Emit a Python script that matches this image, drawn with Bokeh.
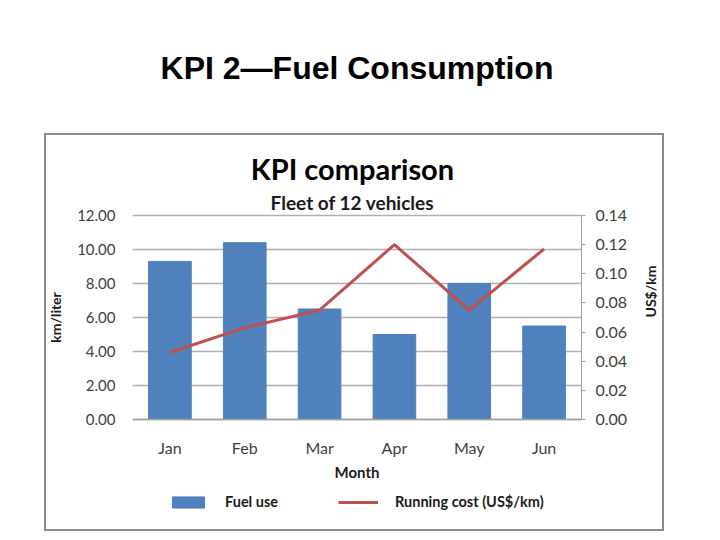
import math
from bokeh.plotting import figure
from bokeh.models import (FactorRange, Range1d, LinearAxis, Title, Label, InlineStyleSheet,
                          Legend, LegendItem, FixedTicker, NumeralTickFormatter, ColumnDataSource)
from bokeh.embed import file_html
from bokeh.resources import INLINE

months = ["Jan", "Feb", "Mar", "Apr", "May", "Jun"]
fuel_use = [9.3, 10.4, 6.5, 5.0, 8.0, 5.5]
running_cost = [0.046, 0.063, 0.075, 0.120, 0.075, 0.117]
left_ticks = [0, 2, 4, 6, 8, 10, 12]
right_ticks = [0.0, 0.02, 0.04, 0.06, 0.08, 0.10, 0.12, 0.14]

FONT = "Lato"
TICK_COLOR = "#404040"
TEXT_COLOR = "#1a1a1a"
BAR_COLOR = "#4F81BD"
LINE_COLOR = "#C0504D"

# The frame reaches above the top gridline and below zero, so that the chart
# titles, the month labels and the legend all sit inside it.
LEFT_MAX = 12.0
RIGHT_MAX = 0.14
ABOVE = 17.588      # left-axis units at the top of the frame
BELOW = 5.588       # left-axis units below zero at the bottom of the frame
K = RIGHT_MAX / LEFT_MAX

src = ColumnDataSource(data=dict(month=months, fuel=fuel_use, cost=running_cost))

p = figure(width=712, height=532, x_range=FactorRange(*months, range_padding=0),
           y_range=Range1d(-BELOW, ABOVE), output_backend="svg", toolbar_location=None,
           min_border_left=132, min_border_right=131, min_border_top=120, min_border_bottom=18)
p.outline_line_color = None
p.background_fill_color = "white"
p.border_fill_color = "white"
p.extra_y_ranges = {"cost": Range1d(-BELOW * K, ABOVE * K)}
p.stylesheets = [InlineStyleSheet(css=(
    ":host::after { content: ''; position: absolute; left: 44px; top: 133px; "
    "width: 620px; height: 398px; box-sizing: border-box; border: 2px solid #8a8a8a; "
    "pointer-events: none; }"))]

# left axis
ax = p.yaxis[0]
ax.ticker = FixedTicker(ticks=left_ticks)
ax.bounds = (0, LEFT_MAX)
ax.formatter = NumeralTickFormatter(format="0.00")
ax.axis_line_color = None
ax.major_tick_line_color = None
ax.minor_tick_line_color = None
ax.major_label_standoff = 11
ax.major_label_text_font = FONT
ax.major_label_text_font_size = "15px"
ax.major_label_text_color = TICK_COLOR
ax.axis_label = "km/liter"
ax.axis_label_standoff = 10
ax.axis_label_text_font = FONT
ax.axis_label_text_font_size = "14px"
ax.axis_label_text_font_style = "bold"
ax.axis_label_text_color = TEXT_COLOR

# right axis
rax = LinearAxis(y_range_name="cost", ticker=FixedTicker(ticks=right_ticks),
                 formatter=NumeralTickFormatter(format="0.00"), bounds=(0, RIGHT_MAX))
rax.axis_line_color = "#A0A0A0"
rax.major_tick_line_color = "#A0A0A0"
rax.major_tick_out = 4
rax.major_tick_in = 0
rax.minor_tick_line_color = None
rax.major_label_standoff = 10
rax.major_label_text_font = FONT
rax.major_label_text_font_size = "16px"
rax.major_label_text_color = TICK_COLOR
rax.axis_label = "US$/km"
rax.axis_label_standoff = 20
rax.axis_label_orientation = math.pi / 2
rax.axis_label_text_font = FONT
rax.axis_label_text_font_size = "14px"
rax.axis_label_text_font_style = "bold"
rax.axis_label_text_color = TEXT_COLOR
p.add_layout(rax, "right")

# x axis, pinned at zero
xa = p.xaxis[0]
xa.fixed_location = 0
xa.axis_line_color = "#A0A0A0"
xa.axis_line_width = 1.5
xa.major_tick_line_color = None
xa.minor_tick_line_color = None
xa.major_label_standoff = 12
xa.major_label_text_font = FONT
xa.major_label_text_font_size = "16px"
xa.major_label_text_color = TICK_COLOR
xa.axis_label = "Month"
xa.axis_label_standoff = 3
xa.axis_label_text_font = FONT
xa.axis_label_text_font_size = "15px"
xa.axis_label_text_font_style = "bold"
xa.axis_label_text_color = TEXT_COLOR

p.xgrid.grid_line_color = None
p.ygrid.grid_line_color = "#B0B0B0"
p.ygrid.grid_line_width = 1.5

bars = p.vbar(x="month", top="fuel", width=0.57, color=BAR_COLOR, source=src)
line = p.line(x="month", y="cost", y_range_name="cost", line_color=LINE_COLOR,
              line_width=3, source=src)

legend = Legend(items=[LegendItem(label="Fuel use", renderers=[bars]),
                       LegendItem(label="Running cost (US$/km)", renderers=[line])],
                orientation="horizontal", location=(36, 4),
                glyph_width=40, glyph_height=14, label_standoff=17, spacing=60,
                padding=0, margin=0, border_line_color=None, background_fill_alpha=0,
                label_text_font=FONT, label_text_font_size="14.5px",
                label_text_font_style="bold", label_text_color=TEXT_COLOR)
p.add_layout(legend, "center")

# chart title and subtitle (inside the frame, screen offsets from its bottom-left)
p.add_layout(Label(text="KPI comparison", x=220, y=346, x_units="screen", y_units="screen",
                   text_align="center", text_baseline="middle", text_font=FONT,
                   text_font_size="29px", text_font_style="bold", text_color="black"))
p.add_layout(Label(text="Fleet of 12 vehicles", x=220, y=312, x_units="screen", y_units="screen",
                   text_align="center", text_baseline="middle", text_font=FONT,
                   text_font_size="19px", text_font_style="bold", text_color=TEXT_COLOR))

p.add_layout(Title(text="KPI 2\u2014Fuel Consumption", align="center", offset=1, standoff=70,
                   text_font="Liberation Sans", text_font_size="32px", text_font_style="bold",
                   text_color="black"), "above")

open("out.html", "w").write(file_html(p, INLINE))
